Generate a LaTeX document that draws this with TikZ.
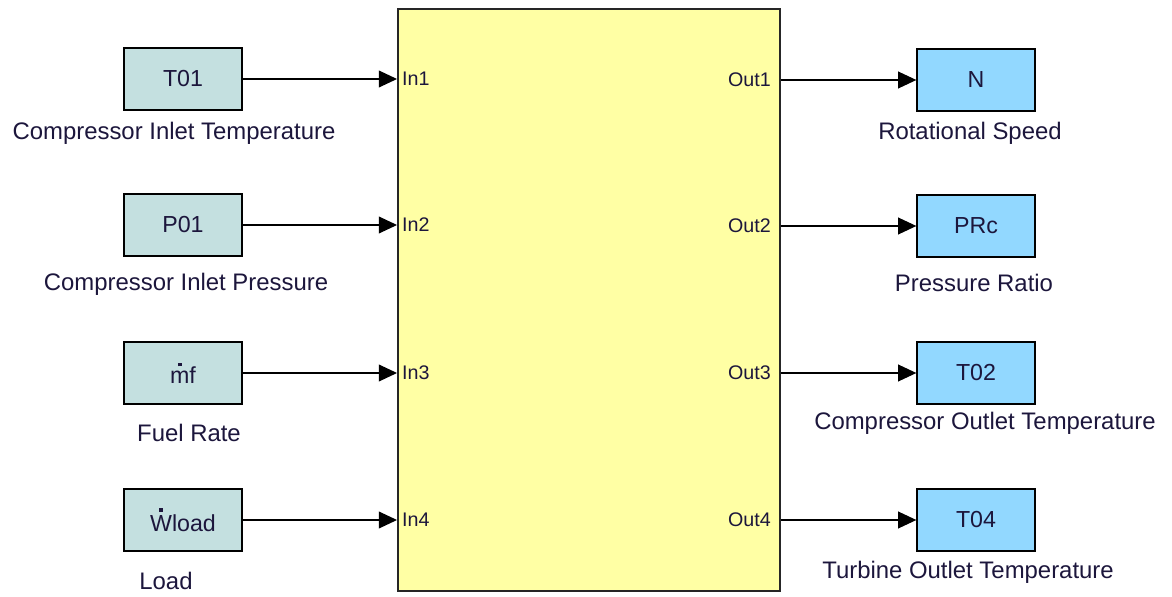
\documentclass[tikz,border=0pt]{standalone}
\usepackage{fontspec}
\setmainfont{Liberation Sans}
\usetikzlibrary{arrows.meta, positioning}
\definecolor{InputTeal}{RGB}{196,224,224}
\definecolor{OutputBlue}{RGB}{146,216,255}
\definecolor{BlockYellow}{RGB}{255,255,164}
\definecolor{InkNavy}{RGB}{28,22,60}
% punto de derivada sobre una letra
\newcommand{\topdot}[1]{\setbox0=\hbox{#1}\hbox to \wd0{\hss\raisebox{\dimexpr\ht0+3pt\relax}{\rule{2.5pt}{2.5pt}}\hss}\kern-\wd0\box0}

\begin{document}
\begin{tikzpicture}[
    x=0.025cm, y=-0.025cm,
    signal/.style={-{Triangle[length=13pt, width=12pt]}, line width=0.9pt},
    srcbox/.style={draw, line width=0.9pt, fill=InputTeal, minimum width=2.95cm,
                   minimum height=1.55cm, font=\fontsize{16.5}{19}\selectfont, text=InkNavy},
    dstbox/.style={srcbox, fill=OutputBlue},
    caption/.style={font=\fontsize{17}{20}\selectfont, text=InkNavy},
    portlbl/.style={font=\fontsize{14}{16}\selectfont, text=InkNavy, inner ysep=0pt},
]
\useasboundingbox (0,0) rectangle (1172,597);

% --- bloque del modelo ---
\node[draw=black!85, line width=1.3pt, fill=BlockYellow,
      minimum width=9.55cm, minimum height=14.55cm] (plant) at (589,300) {};

% --- entradas ---
\foreach \i/\y/\name/\txt/\lx/\ly in {1/79/T01/Compressor Inlet Temperature/174/133,
        2/225/P01/Compressor Inlet Pressure/186/284,
        3/373/\topdot{m}f/Fuel Rate/189/433,
        4/520/\topdot{W}load/Load/166/581}{
    \node[srcbox] (src\i) at (183,\y) {\name};
    \node[caption] (srccap\i) at (\lx,\ly) {\txt};
    \node[portlbl, anchor=west, inner xsep=3.5pt] (in\i) at (plant.west |- src\i) {In\i};
    \draw[signal] (src\i.east) -- (in\i.west);
}

% --- salidas ---
\foreach \i/\y/\name/\txt/\lx/\ly in {1/80/N/Rotational Speed/970/133,
        2/226/PRc/Pressure Ratio/974/283,
        3/373/T02/Compressor Outlet Temperature/985/423,
        4/520/T04/Turbine Outlet Temperature/968/572}{
    \node[dstbox] (dst\i) at (976,\y) {\name};
    \node[caption] (dstcap\i) at (\lx,\ly) {\txt};
    \node[portlbl, anchor=east, inner xsep=7pt] (out\i) at (plant.east |- dst\i) {Out\i};
    \draw[signal] (out\i.east) -- (dst\i.west);
}

\end{tikzpicture}
\end{document}
